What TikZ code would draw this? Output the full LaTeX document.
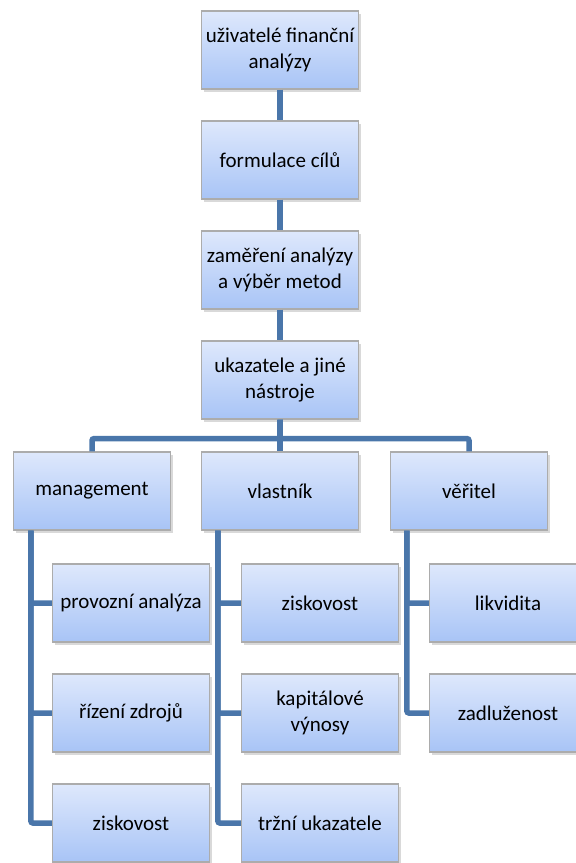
\documentclass[tikz,border=0pt]{standalone}
\usepackage{fontspec}
\setmainfont{Carlito}
\usetikzlibrary{shadows}
\definecolor{linkblue}{HTML}{4A76AA}
\definecolor{boxtop}{HTML}{DEE8FC}
\definecolor{boxbottom}{HTML}{A8C4F6}
\tikzset{
  box/.style={draw=gray!65, line width=1.2pt, top color=boxtop, bottom color=boxbottom,
    minimum width=157pt, minimum height=78pt, align=center, inner sep=2pt,
    font=\fontsize{21}{25.5}\selectfont,
    drop shadow={shadow xshift=2pt, shadow yshift=-2.5pt, opacity=0.3, fill=gray}},
  link/.style={draw=linkblue, line width=5.5pt, rounded corners=2pt}
}
\begin{document}
\begin{tikzpicture}[x=1pt,y=-1pt]
  \useasboundingbox (0,0) rectangle (576,863);
  \node[box] (users) at (280,50) {uživatelé finanční\\analýzy};
  \node[box] (goals) at (280,160) {formulace cílů};
  \node[box] (focus) at (280,270) {zaměření analýzy\\a výběr metod};
  \node[box] (tools) at (280,380) {ukazatele a jiné\\nástroje};
  \node[box] (mgmt) at (92,491) {management};
  \node[box] (owner) at (280,491) {vlastník};
  \node[box] (creditor) at (469,491) {věřitel};
  \node[box] (mgmtA) at (131,603) {provozní analýza};
  \node[box] (mgmtB) at (131,713) {řízení zdrojů};
  \node[box] (mgmtC) at (131,823) {ziskovost};
  \node[box] (ownerA) at (320,603) {ziskovost};
  \node[box] (ownerB) at (320,713) {kapitálové\\výnosy};
  \node[box] (ownerC) at (320,823) {tržní ukazatele};
  \node[box] (credA) at (508,603) {likvidita};
  \node[box] (credB) at (508,713) {zadluženost};
  \foreach \a/\b in {users/goals,goals/focus,focus/tools,tools/owner}
    \draw[link] (\a.south) -- (\b.north);
  \draw[link] (tools.south) -- ++(0,19) -| (mgmt.north);
  \draw[link] (tools.south) -- ++(0,19) -| (creditor.north);
  \foreach \c in {mgmtA,mgmtB,mgmtC}
    \draw[link] ([xshift=18pt]mgmt.south west) |- (\c.west);
  \foreach \c in {ownerA,ownerB,ownerC}
    \draw[link] ([xshift=17pt]owner.south west) |- (\c.west);
  \foreach \c in {credA,credB}
    \draw[link] ([xshift=17pt]creditor.south west) |- (\c.west);
\end{tikzpicture}
\end{document}
